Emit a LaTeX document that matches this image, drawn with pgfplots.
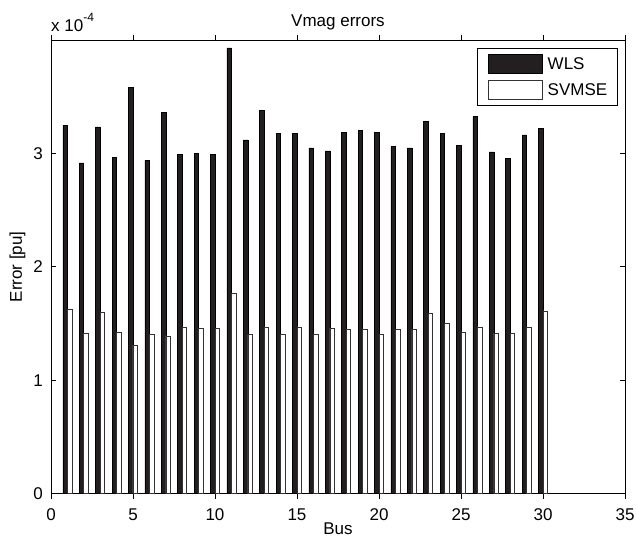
\documentclass[border=0pt]{standalone}
\usepackage{fontspec}
\setmainfont{Liberation Sans}
\usepackage{pgfplots}
\usepackage{pgfplotstable}
\pgfplotsset{compat=1.18}
\usetikzlibrary{calc}
\definecolor{wlsfill}{RGB}{35,31,32}
\newcommand{\chfont}{\fontsize{17bp}{20bp}\selectfont}
\pgfplotstableread{
bus wls svm
1  3.246e-4 1.623e-4
2  2.917e-4 1.415e-4
3  3.234e-4 1.603e-4
4  2.967e-4 1.427e-4
5  3.585e-4 1.309e-4
6  2.941e-4 1.401e-4
7  3.363e-4 1.392e-4
8  2.988e-4 1.471e-4
9  3.003e-4 1.459e-4
10 2.988e-4 1.459e-4
11 3.931e-4 1.764e-4
12 3.120e-4 1.401e-4
13 3.378e-4 1.471e-4
14 3.176e-4 1.401e-4
15 3.176e-4 1.471e-4
16 3.049e-4 1.401e-4
17 3.023e-4 1.459e-4
18 3.187e-4 1.447e-4
19 3.202e-4 1.447e-4
20 3.187e-4 1.401e-4
21 3.061e-4 1.447e-4
22 3.049e-4 1.447e-4
23 3.281e-4 1.591e-4
24 3.176e-4 1.506e-4
25 3.073e-4 1.427e-4
26 3.325e-4 1.471e-4
27 3.014e-4 1.415e-4
28 2.956e-4 1.415e-4
29 3.164e-4 1.471e-4
30 3.222e-4 1.612e-4
}\data
\begin{document}
\begin{tikzpicture}
\begin{axis}[
  at={(0,0)}, anchor=south west,
  scale only axis, width=574bp, height=453.7bp,
  /pgf/number format/assume math mode=true,
  xmin=0, xmax=35, ymin=0, ymax=4e-4,
  xtick={0,5,...,35},
  ytick={0,1e-4,2e-4,3e-4},
  scaled y ticks=base 10:4,
  ytick scale label code/.code={},
  tick align=inside,
  major tick length=5bp,
  axis line style={line width=0.8bp},
  tick style={line width=0.8bp, black},
  every tick label/.append style={font=\chfont},
  xticklabel style={anchor=base, yshift=-21.3bp, inner sep=0pt},
  yticklabel style={anchor=east, inner sep=0pt, xshift=-8bp},
  every axis title shift=0pt,
  title={Vmag errors},
  title style={at={(rel axis cs:0.5,1)}, anchor=base, yshift=13.5bp, inner sep=0pt, font=\chfont},
  xlabel={Bus},
  xlabel style={at={(rel axis cs:0.5,0)}, anchor=base, yshift=-40.3bp, inner sep=0pt, font=\chfont},
  ylabel={Error [pu]},
  ylabel style={at={($(rel axis cs:0,0.5)+(-29bp,0)$)}, anchor=base, inner sep=0pt, font=\chfont},
  ybar, bar width=0.28,
  legend style={at={(rel axis cs:0.988,0.982)}, anchor=north east,
    draw=black, line width=0.8bp, inner xsep=10.5bp, inner ysep=5.5bp,
    nodes={inner sep=0pt}, row sep=6.5bp,
    font=\chfont},
  legend cell align=left,
  legend image code/.code={\draw[#1, line width=0.6bp] (0bp,-9.5bp) rectangle (54bp,9.5bp);\path (59bp,0bp);},
]
\addplot[fill=wlsfill, draw=black, line width=0.6bp, bar shift=-0.14] table[x=bus, y=wls] {\data};
\addplot[fill=white, draw=black!80, line width=0.6bp, bar shift=0.14] table[x=bus, y=svm] {\data};
\legend{WLS, SVMSE}
\end{axis}
\node[anchor=base west, inner sep=0pt, font=\chfont] at (0bp,461.7bp) {x 10\raisebox{10bp}{\fontsize{12bp}{12bp}\selectfont -4}};
\pgfresetboundingbox
\path[use as bounding box] (-51bp,-43.3bp) rectangle (585bp,493.7bp);
\end{tikzpicture}
\end{document}
